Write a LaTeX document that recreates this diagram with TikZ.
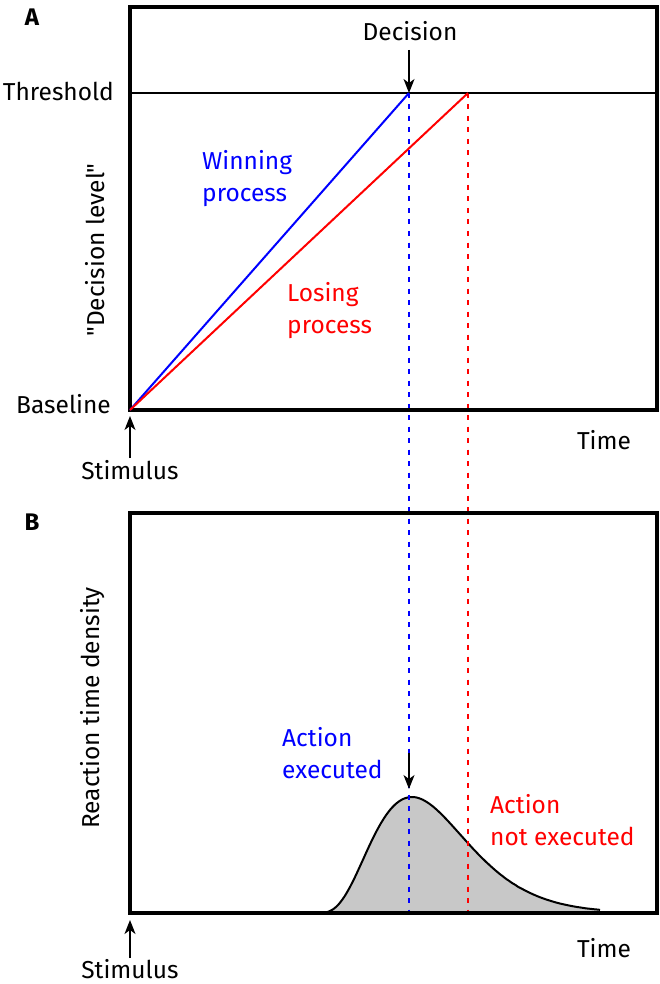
\documentclass[tikz,border=0pt]{standalone}
\usepackage{fontspec}
\setmainfont{Fira Sans}[Ligatures=TeXOff]
\usetikzlibrary{arrows.meta}
\definecolor{fillgray}{RGB}{200,200,200}
\tikzset{
  lbl/.style={font=\fontsize{24.5}{32}\selectfont, inner sep=0pt},
  panel/.style={font=\fontsize{24}{28}\selectfont\bfseries, inner sep=0pt},
  box/.style={line width=3.2pt},
  proc/.style={line width=2pt},
  vdot/.style={line width=2.5pt, dash pattern=on 5pt off 6.5pt},
  pointer/.style={line width=1.3pt, -{Stealth[length=14pt,width=11pt,inset=4pt]}},
}
\begin{document}
\begin{tikzpicture}[x=1pt,y=-1pt,
  declare function={aa(\t)=(\t<96 ? 3.8 : 4.1); dens(\t)=116*pow(\t/96,aa(\t))*exp(aa(\t)*(1-\t/96));}]
\useasboundingbox (0,0) rectangle (660,984);
% coordinates
\coordinate (A0) at (130,410);
\coordinate (ATL) at (130,7);
\coordinate (ABR) at (657,410);
\coordinate (thL) at (130,93);
\coordinate (thR) at (657,93);
\coordinate (win) at (409,93);
\coordinate (lose) at (468,93);
\coordinate (winB) at (409,913);
\coordinate (loseB) at (468,913);
\coordinate (B0) at (130,913);
\coordinate (BTL) at (130,513);
\coordinate (BBR) at (657,913);
% density curve
\fill[fillgray] (316,913) -- plot[domain=0:284, samples=150, smooth] ({316+\x},{913-dens(\x)}) -- (600,913) -- cycle;
\draw[line width=2pt] plot[domain=0:284, samples=150, smooth] ({316+\x},{913-dens(\x)});
% dotted
\draw[vdot, blue] (win) -- (winB);
\draw[vdot, red] (lose) -- (loseB);
% panel A
\draw[box] (ABR) rectangle (ATL);
\draw[line width=1.8pt] (thL) -- (thR);
\draw[proc, blue] (A0) -- (win);
\draw[proc, red] (A0) -- (lose);
\draw[box] (BTL) rectangle (BBR);
% labels
\node[panel] (pA) at (32,17) {A};
\node[panel] (pB) at (32,522) {B};
\node[lbl, anchor=east] (thr) at (114,91) {Threshold};
\node[lbl, anchor=east] (base) at (111,404) {Baseline};
\node[lbl] (dec) at (410,31) {Decision};
\coordinate (decS) at (409,50);
\draw[pointer] (decS) -- (win);
\node[lbl, rotate=90] (dlev) at (95,250) {"Decision level"};
\node[lbl, blue, anchor=west, align=left] (winp) at (202,179) {Winning\\process};
\node[lbl, red, anchor=west, align=left] (losp) at (287,311) {Losing\\process};
\node[lbl] (stimA) at (130,470) {Stimulus};
\coordinate (stimAs) at (130,458);
\coordinate (stimAe) at (130,416);
\draw[pointer] (stimAs) -- (stimAe);
\node[lbl] (timeA) at (604,440) {Time};
\node[lbl, rotate=90] (rtd) at (93,708) {Reaction time density};
\node[lbl, blue, anchor=west, align=left] (actx) at (282,753) {Action\\executed};
\node[lbl, red, anchor=west, align=left] (actn) at (490,820) {Action\\not executed};
\coordinate (actS) at (409,753);
\coordinate (actE) at (409,789);
\draw[pointer] (actS) -- (actE);
\node[lbl] (timeB) at (604,948) {Time};
\node[lbl] (stimB) at (130,969) {Stimulus};
\coordinate (stimBs) at (130,958);
\coordinate (stimBe) at (130,920);
\draw[pointer] (stimBs) -- (stimBe);
\end{tikzpicture}
\end{document}
